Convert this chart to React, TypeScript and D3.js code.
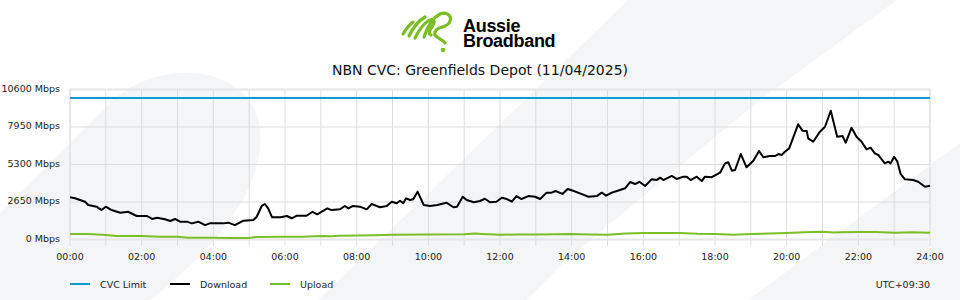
import * as d3 from 'd3';

// time of day in hours, values in Mbps
const hourLabels = ['00:00', '02:00', '04:00', '06:00', '08:00', '10:00', '12:00', '14:00', '16:00', '18:00', '20:00', '22:00', '24:00'];
const mbpsTicks = [0, 2650, 5300, 7950, 10600];
const cvcLimitMbps = 10000;

const downloadHours = [
  0, 0.14, 0.28, 0.42, 0.51, 0.74, 0.88, 1.0, 1.16, 1.4, 1.63, 1.86, 2.15, 2.29, 2.43, 2.65, 2.8, 2.93,
  3.07, 3.26, 3.4, 3.58, 3.77, 3.9, 4.28, 4.42, 4.6, 4.84, 5.12, 5.21, 5.35, 5.44, 5.53, 5.64, 5.87,
  6.05, 6.19, 6.33, 6.6, 6.77, 6.9, 7.18, 7.3, 7.53, 7.67, 7.77, 7.9, 8.09, 8.28, 8.42, 8.65, 8.84, 8.98,
  9.12, 9.21, 9.3, 9.38, 9.49, 9.58, 9.7, 9.87, 10.05, 10.25, 10.51, 10.7, 10.8, 10.96, 11.07, 11.27, 11.44,
  11.58, 11.72, 11.9, 12.05, 12.19, 12.33, 12.46, 12.6, 12.79, 12.98, 13.12, 13.3, 13.44, 13.55, 13.74, 13.89,
  14.06, 14.23, 14.47, 14.7, 14.84, 14.96, 15.12, 15.35, 15.49, 15.63, 15.77, 15.89, 16.05, 16.23, 16.37,
  16.47, 16.56, 16.79, 16.93, 17.12, 17.21, 17.32, 17.49, 17.63, 17.72, 17.91, 18.14, 18.28, 18.37, 18.47,
  18.56, 18.72, 18.88, 19.07, 19.23, 19.35, 19.53, 19.67, 19.77, 19.86, 19.95, 20.07, 20.32, 20.44, 20.56,
  20.6, 20.74, 20.93, 21.07, 21.23, 21.41, 21.56, 21.65, 21.81, 21.95, 22.09, 22.23, 22.34, 22.46, 22.56,
  22.74, 22.84, 22.9, 23.0, 23.09, 23.18, 23.3, 23.53, 23.67, 23.86, 24,
];
const downloadMbps = [
  2980, 2910, 2790, 2670, 2440, 2320, 2080, 2320, 2080, 1890, 1960, 1660, 1660, 1450, 1540, 1430, 1310, 1450,
  1260, 1260, 1140, 1260, 1020, 1140, 1140, 1190, 1020, 1330, 1380, 1610, 2370, 2510, 2200, 1570, 1570,
  1660, 1500, 1680, 1680, 1960, 1780, 2200, 2080, 2130, 2370, 2200, 2370, 2320, 2130, 2510, 2280, 2370, 2670,
  2560, 2740, 2560, 2910, 2790, 2840, 3380, 2440, 2370, 2440, 2600, 2280, 2320, 3020, 2790, 2630, 2720,
  2880, 2630, 2670, 2950, 2860, 2670, 3070, 2860, 3070, 3020, 2860, 3310, 3310, 3430, 3220, 3570,
  3430, 3260, 3020, 3070, 3310, 3100, 3310, 3500, 3620, 4060, 3920, 4080, 3780, 4250, 4200,
  4370, 4200, 4490, 4280, 4440, 4440, 4200, 4440, 4130, 4440, 4400, 4720, 5380, 5460, 4860,
  4910, 6040, 5100, 5570, 6250, 5810, 5900, 5900, 6040, 5970, 6200, 6440, 8140, 7690, 7670,
  7150, 6910, 7620, 7970, 9100, 7260, 7310, 6840, 7900, 7260, 6910, 6370, 6490, 6090, 5970,
  5380, 5500, 5380, 5850, 5500, 4630, 4250, 4200, 4080, 3730, 3800,
];

const uploadHours = [
  0, 0.5, 0.9, 1.0, 1.3, 2, 2.5, 3, 3.3, 4, 4.5, 5, 5.2, 6, 6.5, 7, 7.3, 7.5, 8, 8.5, 9, 10, 11, 11.3, 11.5,
  12, 12.5, 13, 14, 14.5, 15, 15.5, 16, 17, 17.5, 18, 18.5, 19, 19.5, 20, 20.5, 21, 21.3, 21.5, 22, 22.5, 23, 23.5, 24,
];
const uploadMbps = [
  390, 390, 330, 320, 250, 250, 200, 200, 130, 130, 110, 110, 180, 200, 200, 250, 230, 270, 280, 300, 340, 360, 365, 420, 390,
  340, 350, 360, 390, 360, 340, 430, 460, 460, 410, 390, 340, 390, 420, 460, 510, 550, 500, 510, 530, 530, 480, 510, 480,
];

const legendItems = [
  { label: 'CVC Limit', color: '#0a9ad8' },
  { label: 'Download', color: '#000000' },
  { label: 'Upload', color: '#7abf26' },
];

const FONT = '"DejaVu Sans", sans-serif';
const BG = '#f4f5f7';
const GREEN = '#78be20';

export default function App() {
  const width = 960;
  const height = 300;
  const x = d3.scaleLinear().domain([0, 24]).range([70, 930]);
  const y = d3.scaleLinear().domain([0, 10600]).range([239.5, 89.5]);

  const line = d3
    .line<[number, number]>()
    .x(d => x(d[0]))
    .y(d => y(d[1]));

  const download = line(downloadHours.map((h, i) => [h, downloadMbps[i]] as [number, number])) || '';
  const upload = line(uploadHours.map((h, i) => [h, uploadMbps[i]] as [number, number])) || '';
  const hours = d3.range(0, 25);

  return (
    <svg width={width} height={height} style={{ position: 'absolute', left: 0, top: 0, display: 'block' }} fontFamily={FONT}>
      <rect width={width} height={height} fill="#fff" />
      {/* background decoration */}
      <path d="M0,213 L110,103 C150,63 230,60 255,110 C275,160 240,230 150,300 L0,300 Z" fill={BG} />
      <path d="M628,0 L897,0 L760,100 L566,260 L527,300 L318,300 Z" fill={BG} />
      <path d="M960,143 L960,300 L748,300 Z" fill={BG} />

      {/* logo mark */}
      <g fill="none" stroke={GREEN} strokeWidth={3.2} strokeLinecap="round" strokeLinejoin="round">
        <path d="M403,34 C406,29 409,25 413,22" />
        <path d="M409,36 C413,28 418,21 425,17" />
        <path d="M415,38 C419,30 423,24 428,21 C432,18 436,20 433,25 C431,29 427,33 431,35" />
        <path d="M424,37 C427,28 432,18 440,14 C448,11 453,17 449,23 C446,28 437,26 435,32 C433,38 442,38 445,43" />
      </g>
      <circle cx={443} cy={50} r={2.3} fill={GREEN} />
      <text fontFamily='"Liberation Sans", Arial, sans-serif' fontWeight="bold" fontSize={18} fill="#000" letterSpacing={-0.3}>
        <tspan x={463} y={31.5}>Aussie</tspan>
        <tspan x={463} y={47}>Broadband</tspan>
      </text>

      <text x={480} y={75} textAnchor="middle" fontSize={14} fill="#111">
        NBN CVC: Greenfields Depot (11/04/2025)
      </text>

      {/* grid */}
      {mbpsTicks.map(v => (
        <line key={'h' + v} x1={70} x2={930} y1={y(v)} y2={y(v)} stroke="#dcdcdc" strokeWidth={1} />
      ))}
      {hours.map(h => (
        <line key={'v' + h} x1={x(h)} x2={x(h)} y1={89.5} y2={246} stroke="#dcdcdc" strokeWidth={1} />
      ))}
      <rect x={70} y={89.5} width={860} height={150} fill="none" stroke="#e6e6e6" strokeWidth={2} />

      {mbpsTicks.map(v => (
        <text key={'yl' + v} x={60} y={y(v) + 2} textAnchor="end" fontSize={9.5} fill="#222">
          {v} Mbps
        </text>
      ))}
      {hourLabels.map((t, i) => (
        <text key={'xl' + t} x={x(i * 2)} y={259.5} textAnchor="middle" fontSize={9.5} fill="#222">
          {t}
        </text>
      ))}

      {/* series */}
      <line x1={x(0)} x2={x(24)} y1={y(cvcLimitMbps)} y2={y(cvcLimitMbps)} stroke={legendItems[0].color} strokeWidth={2} />
      <path d={upload} fill="none" stroke={legendItems[2].color} strokeWidth={2} strokeLinejoin="round" />
      <path d={download} fill="none" stroke={legendItems[1].color} strokeWidth={2} strokeLinejoin="round" />

      {/* legend */}
      {legendItems.map((item, i) => (
        <g key={item.label} transform={`translate(${70 + i * 100},284)`}>
          <line x1={0} x2={20} y1={0} y2={0} stroke={item.color} strokeWidth={2} />
          <text x={30} y={3.5} fontSize={9.5} fill="#222">
            {item.label}
          </text>
        </g>
      ))}
      <text x={930} y={287.5} textAnchor="end" fontSize={9.5} fill="#222">
        UTC+09:30
      </text>
    </svg>
  );
}
